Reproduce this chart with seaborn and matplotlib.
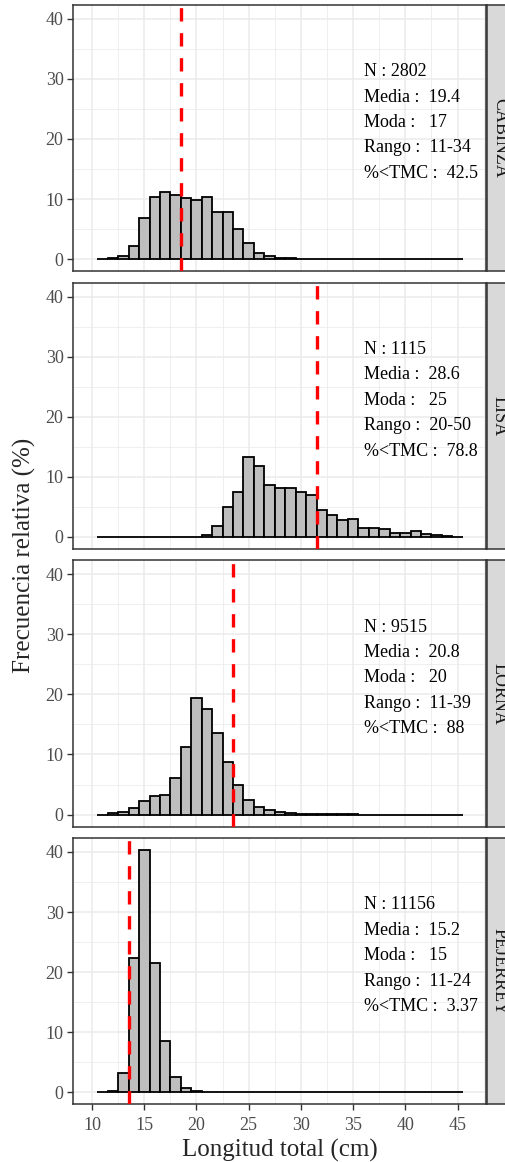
import numpy as np
import pandas as pd
import matplotlib.pyplot as plt
import seaborn as sns

# talla (cm), centros de clase 11..45
lengths = np.arange(11, 46)

species = ["CABINZA", "LISA", "LORNA", "PEJERREY"]

# frecuencia relativa (%) por clase de talla
cabinza = [0, 0.15, 0.55, 2.2, 6.9, 10.3, 11.1, 10.7, 10.2, 9.8,
           10.3, 7.9, 7.9, 5.0, 2.6, 1.05, 0.6, 0.25, 0.15, 0.08,
           0.06, 0, 0.1, 0, 0, 0, 0, 0, 0, 0,
           0, 0, 0, 0, 0]
lisa = [0, 0, 0, 0, 0, 0, 0, 0, 0, 0.05,
        0.25, 1.8, 4.9, 7.4, 13.3, 11.8, 8.7, 8.2, 8.1, 7.5,
        6.9, 4.4, 3.6, 2.8, 3.0, 1.4, 1.4, 1.3, 0.6, 0.7,
        0.9, 0.4, 0.3, 0.1, 0]
lorna = [0, 0.2, 0.45, 1.1, 2.3, 3.1, 3.3, 6.1, 11.3, 19.4,
         17.6, 13.5, 8.8, 4.9, 2.5, 1.3, 0.7, 0.45, 0.2, 0.15,
         0.15, 0.1, 0.05, 0.05, 0.03, 0, 0, 0, 0, 0,
         0, 0, 0, 0, 0]
pejerrey = [0, 0.2, 3.2, 22.4, 40.3, 21.6, 8.5, 2.6, 0.67, 0.2,
            0, 0, 0, 0, 0, 0, 0, 0, 0, 0,
            0, 0, 0, 0, 0, 0, 0, 0, 0, 0,
            0, 0, 0, 0, 0]
freqs = [cabinza, lisa, lorna, pejerrey]

# talla minima de captura (linea roja)
tmc = [18.5, 31.5, 23.5, 13.5]

n_vals = ["2802", "1115", "9515", "11156"]
media_vals = ["19.4", "28.6", "20.8", "15.2"]
moda_vals = ["17", "25", "20", "15"]
rango_vals = ["11-34", "20-50", "11-39", "11-24"]
pct_tmc_vals = ["42.5", "78.8", "88", "3.37"]

sns.set_style("white")
plt.rcParams["font.family"] = ["Liberation Serif", "DejaVu Serif"]

W, H = 506, 1162
fig = plt.figure(figsize=(W / 100, H / 100), dpi=100)

left, right = 73.3, 485.7
top0, bottom_last, gap = 5.0, 1104.3, 11.6
h = (bottom_last - top0 - 3 * gap) / 4

for i, sp in enumerate(species):
    df = pd.DataFrame({"talla": lengths, "freq": freqs[i]})
    top = top0 + i * (h + gap)
    ax = fig.add_axes([left / W, 1 - (top + h) / H, (right - left) / W, h / H])
    sns.histplot(data=df, x="talla", weights="freq", binwidth=1,
                 binrange=(10.5, 45.5), stat="count",
                 color="#BEBEBE", edgecolor="black", linewidth=1.3,
                 alpha=1, ax=ax, zorder=2)
    ax.axvline(tmc[i], color="red", lw=2.4, ls=(0, (4, 3.5)), zorder=3)

    lines = ["N : " + n_vals[i],
             "Media :  " + media_vals[i],
             "Moda :   " + moda_vals[i],
             "Rango :  " + rango_vals[i],
             "%<TMC :  " + pct_tmc_vals[i]]
    for k, s in enumerate(lines):
        ax.text(36, 31.2 - k * 4.23, s, ha="left", va="center",
                fontsize=13, color="black", zorder=4)

    ax.set_xlim(8.2, 47.7)
    ax.set_ylim(-2.0, 42.3)
    ax.set_xticks(range(10, 46, 5))
    ax.set_xticks(np.arange(12.5, 47.6, 5), minor=True)
    ax.set_yticks(range(0, 41, 10))
    ax.set_yticks(range(5, 40, 10), minor=True)
    ax.set_axisbelow(True)
    ax.grid(which="major", color="#EBEBEB", lw=1.1)
    ax.grid(which="minor", color="#EBEBEB", lw=0.55)
    ax.set_xlabel("")
    ax.set_ylabel("")
    for s in ax.spines.values():
        s.set_color("#333333")
        s.set_linewidth(1.1)
    ax.tick_params(which="minor", length=0)
    ax.tick_params(which="major", direction="out", length=4, width=1.0,
                   color="#333333", labelcolor="#4D4D4D", labelsize=13,
                   left=True, pad=3)
    if i < 3:
        ax.tick_params(axis="x", bottom=False, labelbottom=False)
    else:
        ax.tick_params(axis="x", bottom=True, pad=5)

    # franja del panel (recortada por el borde de la figura)
    sax = fig.add_axes([487 / W, 1 - (top + h) / H, 26 / W, h / H])
    sax.set_facecolor("#D9D9D9")
    sax.set_xticks([])
    sax.set_yticks([])
    for s in sax.spines.values():
        s.set_color("#333333")
        s.set_linewidth(1.1)
    fig.text(495 / W, 1 - (top + h / 2) / H, sp, rotation=270,
             rotation_mode="anchor", ha="center", va="baseline",
             fontsize=13, color="#1A1A1A")

fig.text(24 / W, 1 - 555 / H, "Frecuencia relativa (%)", rotation=90,
         ha="center", va="center", fontsize=18)
fig.text((left + right) / 2 / W, 1 - 1150 / H, "Longitud total (cm)",
         ha="center", va="center", fontsize=18)

fig.savefig("out.png", dpi=100)
